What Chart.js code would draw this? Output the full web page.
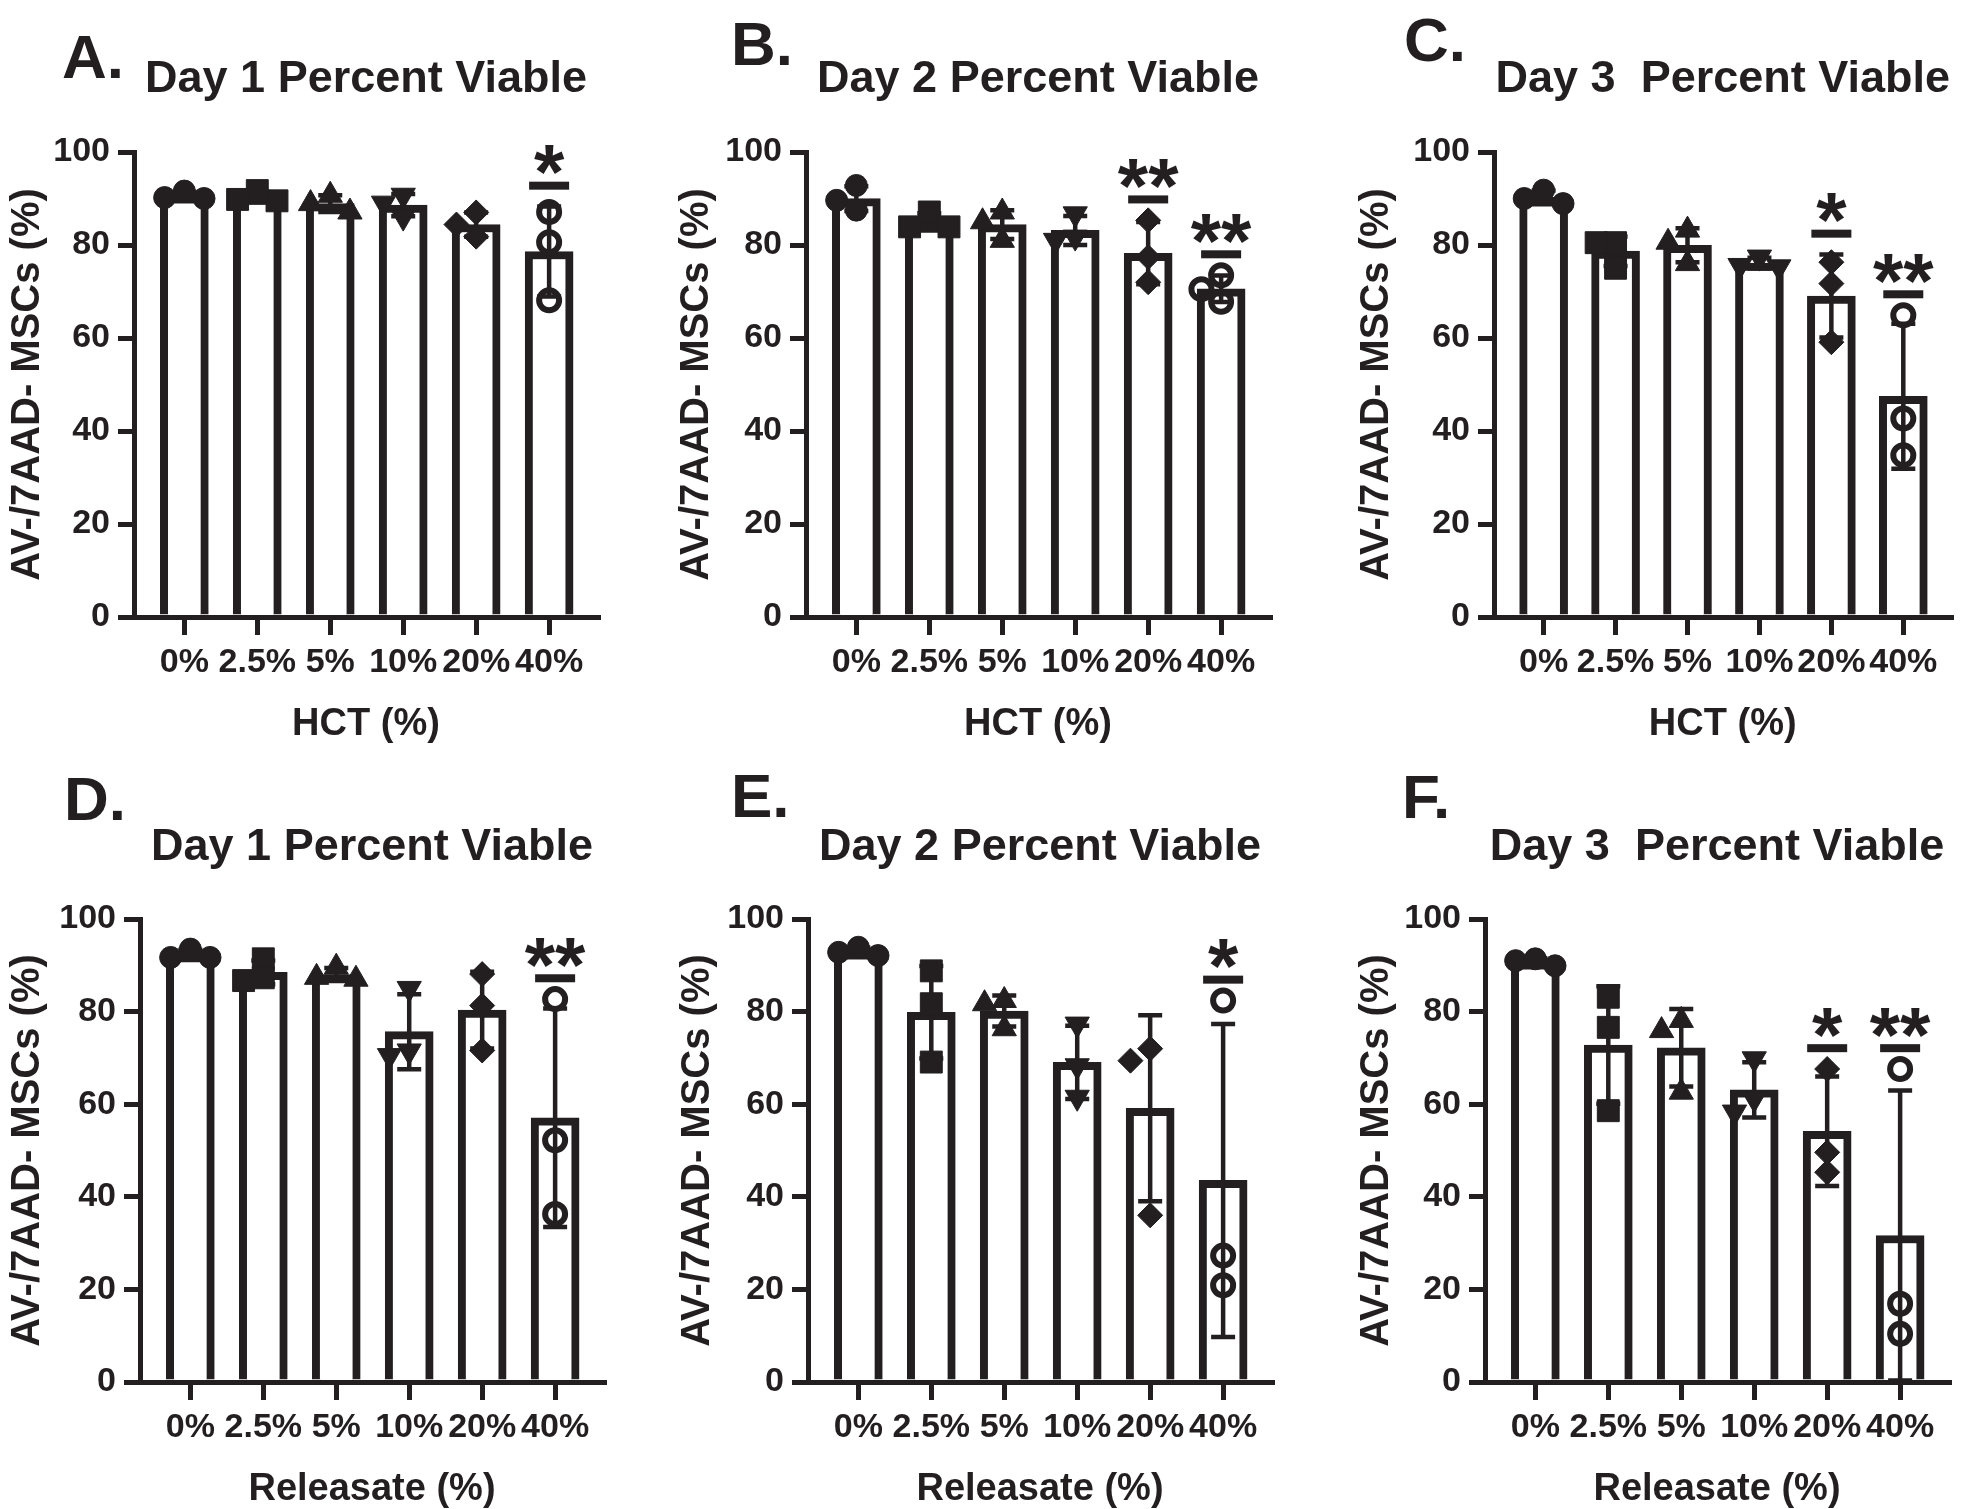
<!DOCTYPE html>
<html>
<head>
<meta charset="utf-8">
<script src="https://cdn.jsdelivr.net/npm/chart.js@4.4.1/dist/chart.umd.min.js"></script>
<style>
  body { margin: 0; background: #fff; width: 1968px; height: 1509px; position: relative; overflow: hidden; }
  canvas { position: absolute; }
</style>
</head>
<body>
<canvas id="cA"></canvas>
<canvas id="cB"></canvas>
<canvas id="cC"></canvas>
<canvas id="cD"></canvas>
<canvas id="cE"></canvas>
<canvas id="cF"></canvas>
<script>
// Catégories (axe x)
const CATS = ['0%', '2.5%', '5%', '10%', '20%', '40%'];
const Y_TICKS = [0, 20, 40, 60, 80, 100];

// Valeurs individuelles (3 réplicats par condition)
const hctDay1 = [[90.0, 91.6, 90.2], [89.5, 91.7, 89.8], [87.1, 90.7, 88.9], [90.7, 86.0, 89.0], [87.0, 84.4, 81.8], [87.1, 80.6, 68.1]];
const hctDay2 = [[92.8, 89.6, 87.5], [83.9, 87.1, 83.9], [87.1, 85.0, 81.0], [86.7, 81.0, 81.7], [85.3, 77.4, 72.0], [73.5, 70.5, 67.8]];
const hctDay3 = [[88.9, 91.8, 90.0], [80.5, 80.5, 75.0], [83.2, 80.6, 76.0], [77.4, 75.3, 75.6], [76.3, 71.7, 59.1], [64.9, 42.7, 34.8]];
const relDay1 = [[91.7, 93.5, 91.7], [91.4, 86.7, 87.3], [87.0, 89.6, 87.4], [85.0, 71.5, 70.5], [88.1, 81.3, 71.6], [82.7, 52.2, 36.3]];
const relDay2 = [[92.1, 93.9, 92.8], [88.8, 81.7, 69.1], [82.4, 81.7, 76.3], [77.3, 68.3, 61.5], [72.0, 69.4, 36.0], [82.4, 27.3, 20.9]];
const relDay3 = [[89.9, 91.0, 91.4], [83.1, 76.6, 58.6], [78.1, 75.9, 62.6], [69.8, 61.2, 58.3], [67.6, 49.6, 45.3], [67.6, 16.9, 10.4]];

// Significativité
const hctSig1 = ['', '', '', '', '', '*'];
const hctSig2 = ['', '', '', '', '**', '**'];
const hctSig3 = ['', '', '', '', '*', '**'];
const relSig1 = ['', '', '', '', '', '**'];
const relSig2 = ['', '', '', '', '', '*'];
const relSig3 = ['', '', '', '', '*', '**'];

const INK = '#231f20';
const FONT = "'Liberation Sans', Arial, sans-serif";
Chart.defaults.font.family = FONT;
Chart.defaults.color = INK;

// Symboles par condition
const MARKERS = [
  { style: 'circle', radius: 11, rotation: 0, fill: INK, bw: 1 },
  { style: 'rect', radius: 15.5, rotation: 0, fill: INK, bw: 1 },
  { style: 'triangle', radius: 14, rotation: 0, fill: INK, bw: 1 },
  { style: 'triangle', radius: 14, rotation: 180, fill: INK, bw: 1 },
  { style: 'rectRot', radius: 12.5, rotation: 0, fill: INK, bw: 1 },
  { style: 'circle', radius: 10, rotation: 0, fill: 'rgba(0,0,0,0)', bw: 6 }
];

// Mise en page des 6 panneaux
const ROW1 = { top: 0, h: 760, plotTop: 152, plotBottom: 617, titleY: 80, xTitleY: 725 };
const ROW2 = { top: 760, h: 749, plotTop: 919, plotBottom: 1382, titleY: 848, xTitleY: 1490 };

const panels = [
  { id: 'cA', letter: 'A.', lx: 62, ly: 61, title: 'Day 1 Percent Viable', xTitle: 'HCT (%)', data: hctDay1, sig: hctSig1, row: ROW1, left: 0, w: 650, axisX: 134, yTitleX: 28 },
  { id: 'cB', letter: 'B.', lx: 731, ly: 48, title: 'Day 2 Percent Viable', xTitle: 'HCT (%)', data: hctDay2, sig: hctSig2, row: ROW1, left: 668, w: 630, axisX: 806, yTitleX: 697 },
  { id: 'cC', letter: 'C.', lx: 1404, ly: 44, title: 'Day 3  Percent Viable', xTitle: 'HCT (%)', data: hctDay3, sig: hctSig3, row: ROW1, left: 1340, w: 628, axisX: 1494, yTitleX: 1377 },
  { id: 'cD', letter: 'D.', lx: 64, ly: 803, title: 'Day 1 Percent Viable', xTitle: 'Releasate (%)', data: relDay1, sig: relSig1, row: ROW2, left: 0, w: 650, axisX: 140, yTitleX: 28 },
  { id: 'cE', letter: 'E.', lx: 731, ly: 800, title: 'Day 2 Percent Viable', xTitle: 'Releasate (%)', data: relDay2, sig: relSig2, row: ROW2, left: 668, w: 630, axisX: 808, yTitleX: 698 },
  { id: 'cF', letter: 'F.', lx: 1402, ly: 801, title: 'Day 3  Percent Viable', xTitle: 'Releasate (%)', data: relDay3, sig: relSig3, row: ROW2, left: 1340, w: 628, axisX: 1485, yTitleX: 1377 }
];
const PLOT_W = 464;
const X_MIN = -0.69, X_MAX = 5.67;

// Moyenne et écart-type
function meanSd(vals) {
  const m = vals.reduce((a, b) => a + b, 0) / vals.length;
  const sd = Math.sqrt(vals.reduce((a, v) => a + (v - m) * (v - m), 0) / (vals.length - 1));
  return { m, sd };
}

// Écarter horizontalement les points qui se chevauchent
const PX_PER_CAT = 73, PX_PER_UNIT = 4.64, MIN_GAP = 18;
function spread(vals) {
  const order = vals.map((v, i) => i).sort((a, b) => vals[b] - vals[a]);
  const placed = [];
  const dx = vals.map(() => 0);
  order.forEach(i => {
    for (const off of [0, -0.27, 0.27, -0.54, 0.54]) {
      const clash = placed.some(p => Math.hypot((p.off - off) * PX_PER_CAT, (p.v - vals[i]) * PX_PER_UNIT) < MIN_GAP);
      if (!clash) { dx[i] = off; placed.push({ off, v: vals[i] }); break; }
    }
  });
  return dx;
}

const byId = {};

// Barres d'erreur (moyenne ± SD), dessinées juste après les barres
const errorBars = {
  id: 'errorBars',
  afterDatasetDraw(chart, args) {
    if (args.index !== 0) return;
    const p = byId[chart.canvas.id];
    const { ctx, scales: { x, y } } = chart;
    ctx.save();
    ctx.strokeStyle = INK;
    ctx.lineWidth = 4.5;
    p.stats.forEach((s, i) => {
      const px = x.getPixelForValue(i);
      const top = y.getPixelForValue(s.m + s.sd);
      const bot = y.getPixelForValue(Math.max(0, s.m - s.sd));
      ctx.beginPath();
      ctx.moveTo(px, top); ctx.lineTo(px, bot);
      ctx.moveTo(px - 12, top); ctx.lineTo(px + 12, top);
      ctx.moveTo(px - 12, bot); ctx.lineTo(px + 12, bot);
      ctx.stroke();
    });
    ctx.restore();
  }
};

// Lettre du panneau + étoiles de significativité
const decor = {
  id: 'decor',
  afterDraw(chart) {
    const p = byId[chart.canvas.id];
    const { ctx, scales: { x, y } } = chart;
    ctx.save();
    ctx.fillStyle = INK;
    ctx.font = 'bold 62px ' + FONT;
    ctx.textAlign = 'left';
    ctx.textBaseline = 'middle';
    ctx.fillText(p.letter, p.lx - p.left, p.ly - p.row.top);
    p.sig.forEach((mark, i) => {
      if (!mark) return;
      const s = p.stats[i];
      const lineVal = Math.max(s.m + s.sd, ...p.data[i]) + 4.5;
      const px = x.getPixelForValue(i);
      const ly = y.getPixelForValue(lineVal);
      ctx.fillRect(px - 20, ly - 4, 40, 8);
      ctx.font = 'bold 78px ' + FONT;
      ctx.textAlign = 'center';
      ctx.textBaseline = 'alphabetic';
      ctx.fillText(mark, px, y.getPixelForValue(lineVal + 6.8) + 45);
    });
    ctx.restore();
  }
};

function makeChart(p) {
  p.stats = p.data.map(meanSd);
  byId[p.id] = p;
  const row = p.row;
  const canvas = document.getElementById(p.id);
  canvas.width = p.w;
  canvas.height = row.h;
  canvas.style.left = p.left + 'px';
  canvas.style.top = row.top + 'px';

  const datasets = [{
    type: 'bar',
    order: 2,
    data: p.stats.map((s, i) => ({ x: i, y: s.m })),
    backgroundColor: '#ffffff',
    borderColor: INK,
    borderWidth: 8,
    barThickness: 48
  }];
  p.data.forEach((vals, i) => {
    const dx = spread(vals);
    const mk = MARKERS[i];
    datasets.push({
      type: 'scatter',
      order: 1,
      data: vals.map((v, k) => ({ x: i + dx[k], y: v })),
      pointStyle: mk.style,
      pointRadius: mk.radius,
      pointRotation: mk.rotation,
      pointBackgroundColor: mk.fill,
      pointBorderColor: INK,
      pointBorderWidth: mk.bw
    });
  });

  const titleLh = 45 * 1.2;
  const titlePadTop = row.titleY - row.top - titleLh / 2;
  const titlePadBottom = row.plotTop - row.top - titlePadTop - titleLh;

  new Chart(canvas, {
    type: 'bar',
    data: { datasets },
    options: {
      responsive: false,
      animation: false,
      devicePixelRatio: 1,
      events: [],
      layout: { padding: { left: 0, top: 0, bottom: 0, right: p.left + p.w - (p.axisX + PLOT_W) } },
      plugins: {
        legend: { display: false },
        tooltip: { enabled: false },
        title: {
          display: true,
          fullSize: false,
          text: p.title,
          color: INK,
          font: { size: 45, weight: 'bold', lineHeight: 1.2 },
          padding: { top: titlePadTop, bottom: titlePadBottom }
        }
      },
      scales: {
        x: {
          type: 'linear',
          min: X_MIN,
          max: X_MAX,
          offset: false,
          afterBuildTicks: (axis) => { axis.ticks = CATS.map((c, i) => ({ value: i })); },
          afterFit: (s) => { s.height = row.top + row.h - row.plotBottom; },
          ticks: {
            autoSkip: false,
            maxRotation: 0,
            padding: 7,
            color: INK,
            font: { size: 34, weight: 'bold', lineHeight: 1.2 },
            callback: (v) => CATS[v]
          },
          grid: { offset: false, drawOnChartArea: false, drawTicks: true, tickLength: 18, lineWidth: 5, color: INK },
          border: { display: true, width: 5, color: INK },
          title: {
            display: true,
            text: p.xTitle,
            color: INK,
            font: { size: 38, weight: 'bold', lineHeight: 1.0 },
            padding: { top: 0, bottom: Math.max(0, row.top + row.h - row.xTitleY - 19) }
          }
        },
        y: {
          type: 'linear',
          min: 0,
          max: 100,
          afterBuildTicks: (axis) => { axis.ticks = Y_TICKS.map(v => ({ value: v })); },
          afterFit: (s) => { s.width = p.axisX - p.left; },
          ticks: {
            padding: 8,
            color: INK,
            font: { size: 34, weight: 'bold', lineHeight: 1.2 }
          },
          grid: { drawOnChartArea: false, drawTicks: true, tickLength: 16, lineWidth: 5, color: INK },
          border: { display: true, width: 5, color: INK },
          title: {
            display: true,
            text: 'AV-/7AAD- MSCs (%)',
            color: INK,
            font: { size: 40, weight: 'bold', lineHeight: 1.2 },
            padding: { top: Math.max(0, p.yTitleX - p.left - 24), bottom: 0 }
          }
        }
      }
    },
    plugins: [errorBars, decor]
  });
}

panels.forEach(makeChart);
</script>
</body>
</html>
